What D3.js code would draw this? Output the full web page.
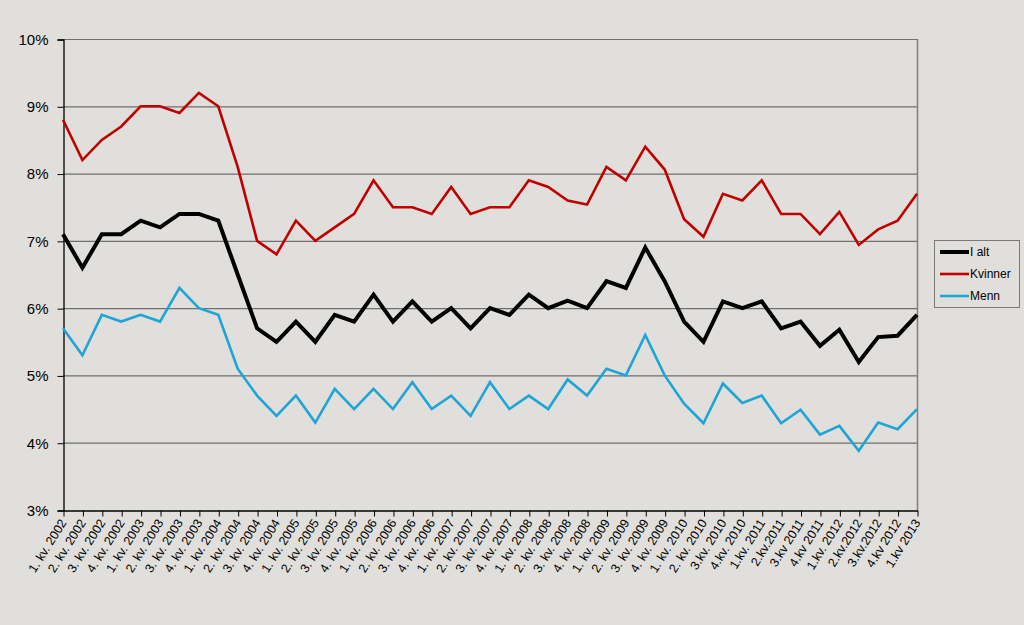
<!DOCTYPE html>
<html>
<head>
<meta charset="utf-8">
<script src="https://cdn.jsdelivr.net/npm/d3@7"></script>
<style>
  html, body { margin: 0; padding: 0; background: #e0dfdb; }
  svg { display: block; font-family: "Liberation Sans", Arial, sans-serif; }
</style>
</head>
<body>
<svg id="chart" width="1024" height="625"></svg>
<script>
const categories = [
  "1. kv. 2002","2. kv. 2002","3. kv. 2002","4. kv. 2002",
  "1. kv. 2003","2. kv. 2003","3. kv. 2003","4. kv. 2003",
  "1. kv. 2004","2. kv. 2004","3. kv. 2004","4. kv. 2004",
  "1. kv. 2005","2. kv. 2005","3. kv. 2005","4. kv. 2005",
  "1. kv. 2006","2. kv. 2006","3. kv. 2006","4. kv. 2006",
  "1. kv. 2007","2. kv. 2007","3. kv. 2007","4. kv. 2007",
  "1. kv. 2008","2. kv. 2008","3. kv. 2008","4. kv. 2008",
  "1. kv. 2009","2. kv. 2009","3. kv. 2009","4. kv. 2009",
  "1. kv. 2010","2. kv. 2010","3.kv. 2010","4.kv. 2010",
  "1.kv. 2011","2.kv.2011","3.kv 2011","4.kv 2011",
  "1.kv. 2012","2.kv.2012","3.kv.2012","4.kv 2012",
  "1.kv 2013"
];
const iAlt = [
  7.1, 6.6, 7.1, 7.1, 7.3, 7.2, 7.4, 7.4, 7.3, 6.5, 5.7, 5.5,
  5.8, 5.5, 5.9, 5.8, 6.2, 5.8, 6.1, 5.8, 6.0, 5.7, 6.0, 5.9,
  6.2, 6.0, 6.11, 6.0, 6.4, 6.3, 6.9, 6.4, 5.8, 5.5, 6.1, 6.0,
  6.1, 5.7, 5.8, 5.44, 5.68, 5.2, 5.57, 5.59, 5.9
];
const kvinner = [
  8.8, 8.2, 8.5, 8.7, 9.0, 9.0, 8.9, 9.2, 9.0, 8.1, 7.0, 6.8,
  7.3, 7.0, 7.2, 7.4, 7.9, 7.5, 7.5, 7.4, 7.8, 7.4, 7.5, 7.5,
  7.9, 7.8, 7.6, 7.54, 8.1, 7.9, 8.4, 8.06, 7.32, 7.06, 7.7, 7.6,
  7.9, 7.4, 7.4, 7.1, 7.43, 6.94, 7.17, 7.3, 7.7
];
const menn = [
  5.7, 5.3, 5.9, 5.8, 5.9, 5.8, 6.3, 6.0, 5.9, 5.1, 4.7, 4.4,
  4.7, 4.3, 4.8, 4.5, 4.8, 4.5, 4.9, 4.5, 4.7, 4.4, 4.9, 4.5,
  4.7, 4.5, 4.94, 4.7, 5.1, 5.0, 5.6, 5.0, 4.58, 4.29, 4.88, 4.59,
  4.7, 4.29, 4.49, 4.12, 4.25, 3.88, 4.3, 4.2, 4.5
];
const yTicks = [3, 4, 5, 6, 7, 8, 9, 10];
const seriesNames = ["I alt", "Kvinner", "Menn"];
const seriesColors = ["#000000", "#c00000", "#1fa4d6"];
const seriesWidths = [4, 2.6, 2.6];

const series = [iAlt, kvinner, menn].map((vals, i) => ({
  name: seriesNames[i], values: vals, color: seriesColors[i], width: seriesWidths[i]
}));

const svg = d3.select("#chart");
const pLeft = 63, pRight = 917, pTop = 39, pBottom = 510;

const x = d3.scalePoint().domain(categories).range([pLeft, pRight]);
const y = d3.scaleLinear().domain([3, 10]).range([pBottom, pTop]);

// gridlines
svg.append("g").selectAll("line").data(yTicks.filter(d => d > 3)).join("line")
  .attr("x1", pLeft).attr("x2", pRight)
  .attr("y1", d => y(d) + 0.5).attr("y2", d => y(d) + 0.5)
  .attr("stroke", "#6f6f6f").attr("stroke-width", 1.2);

// right border
svg.append("line").attr("x1", pRight + 0.5).attr("x2", pRight + 0.5)
  .attr("y1", pTop).attr("y2", pBottom)
  .attr("stroke", "#808080").attr("stroke-width", 1.5);

// y axis
const yAxis = d3.axisLeft(y).tickValues(yTicks).tickSize(6).tickPadding(9)
  .tickFormat(d => d + "%");
const gy = svg.append("g").attr("transform", `translate(${pLeft + 0.5},0.5)`).call(yAxis);
gy.select(".domain").attr("stroke", "#000").attr("stroke-width", 1.3);
gy.selectAll(".tick line").attr("stroke", "#000");
gy.selectAll(".tick text").attr("font-size", 15).attr("fill", "#000")
  .attr("font-family", "Liberation Sans, Arial, sans-serif");

// x axis
const xAxis = d3.axisBottom(x).tickSize(6).tickSizeOuter(0);
const gx = svg.append("g").attr("transform", `translate(0.5,${pBottom + 0.5})`).call(xAxis);
gx.select(".domain").attr("stroke", "#000").attr("stroke-width", 1.3);
gx.selectAll(".tick line").attr("stroke", "#000");
gx.selectAll(".tick text")
  .attr("font-size", 12.5).attr("fill", "#000")
  .attr("font-family", "Liberation Sans, Arial, sans-serif")
  .attr("text-anchor", "end")
  .attr("dy", null).attr("y", 0)
  .attr("transform", "translate(3,12) rotate(-58)");

// lines
const line = d3.line().x((d, i) => x(categories[i])).y(d => y(d));
svg.append("g").selectAll("path").data(series).join("path")
  .attr("d", d => line(d.values))
  .attr("fill", "none")
  .attr("stroke", d => d.color)
  .attr("stroke-width", d => d.width)
  .attr("stroke-linejoin", "miter");

// legend
const lg = svg.append("g").attr("transform", "translate(934,240)");
lg.append("rect").attr("x", 0.5).attr("y", 0.5).attr("width", 85).attr("height", 67)
  .attr("fill", "#e0dfdb").attr("stroke", "#7a7a7a").attr("stroke-width", 1);
const items = lg.selectAll("g.item").data(series).join("g")
  .attr("class", "item")
  .attr("transform", (d, i) => `translate(0,${12 + i * 22})`);
items.append("line").attr("x1", 6).attr("x2", 35).attr("y1", 0).attr("y2", 0)
  .attr("stroke", d => d.color).attr("stroke-width", d => d.width);
items.append("text").attr("x", 36).attr("y", 0).attr("dy", "0.35em")
  .attr("font-size", 12).attr("fill", "#000")
  .text(d => d.name);
</script>
</body>
</html>
